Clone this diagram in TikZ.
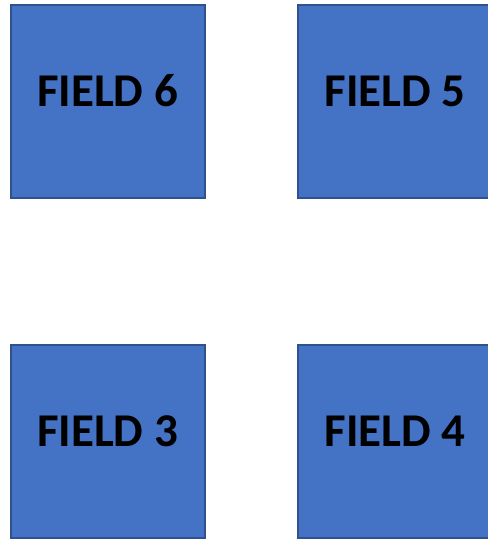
\documentclass[tikz,border=0pt]{standalone}
\usepackage{fontspec}
\setmainfont{Carlito}
\definecolor{boxfill}{HTML}{4472C4}
\definecolor{boxline}{HTML}{2F528F}
\begin{document}
\begin{tikzpicture}[x=1pt,y=-1pt,
  field/.style={draw=boxline,fill=boxfill,line width=1.8pt,minimum width=194pt,minimum height=193pt,inner sep=0pt},
  lbl/.style={font=\fontsize{47}{54}\selectfont\bfseries,text=black,inner sep=0pt}]
\useasboundingbox (0,0) rectangle (488,539);
\clip (0,0) rectangle (488,539);
\node[field] (f6) at (107.75,101.5) {};
\node[field] (f5) at (395,101.5) {};
\node[field] (f3) at (107.75,441.5) {};
\node[field] (f4) at (395,441.5) {};
\node[lbl] (t6) at (107.5,91) {FIELD 6};
\node[lbl] (t5) at (395,91) {FIELD 5};
\node[lbl] (t3) at (107.5,431) {FIELD 3};
\node[lbl] (t4) at (395,431) {FIELD 4};
\end{tikzpicture}
\end{document}
